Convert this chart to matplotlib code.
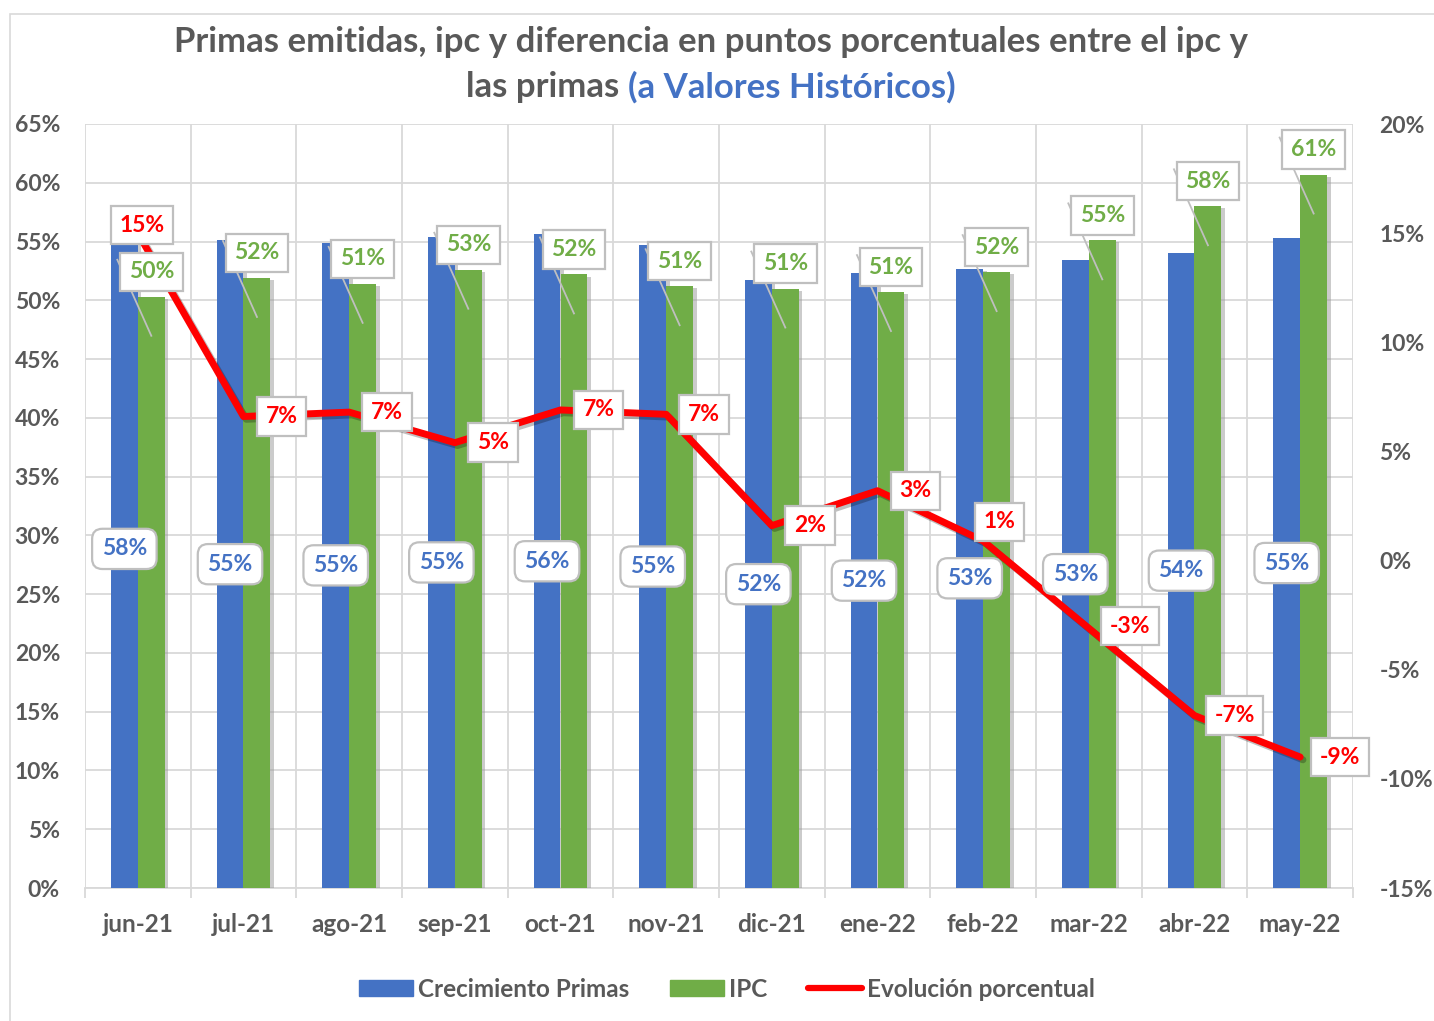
import numpy as np
import matplotlib
matplotlib.use("Agg")
import matplotlib.pyplot as plt
import matplotlib.patheffects as pe
from matplotlib.lines import Line2D
from matplotlib.patches import Rectangle, Patch
from matplotlib.transforms import IdentityTransform

plt.rcParams['font.family'] = ['Lato', 'DejaVu Sans']
plt.rcParams['font.weight'] = 'bold'

meses = ["jun-21", "jul-21", "ago-21", "sep-21", "oct-21", "nov-21",
         "dic-21", "ene-22", "feb-22", "mar-22", "abr-22", "may-22"]
crec_primas = [57.7, 55.1, 54.9, 55.4, 55.6, 54.7, 51.7, 52.3, 52.7, 53.4, 54.0, 55.3]
ipc = [50.3, 51.9, 51.4, 52.6, 52.2, 51.2, 51.0, 50.7, 52.4, 55.1, 58.0, 60.7]
evolucion = [15.0, 6.6, 6.8, 5.4, 6.9, 6.7, 1.6, 3.2, 0.9, -3.1, -7.1, -9.0]

AZUL = "#4472C4"
VERDE = "#70AD47"
ROJO = "#FF0000"
GRIS = "#595959"
GRID = "#D9D9D9"

W, H = 1434, 1021
fig = plt.figure(figsize=(W / 100, H / 100), dpi=100)
ax = fig.add_axes([85 / W, 1 - 888 / H, (1353 - 85) / W, (888 - 124) / H])
ax2 = ax.twinx()

# borde del área del gráfico (solo se ve arriba e izquierda)
fig.patches.append(Rectangle((10 / W, -0.01), 1.1, 1 - 14 / H + 0.01, transform=fig.transFigure,
                             fill=False, edgecolor=GRID, lw=1.2))

x = np.arange(len(meses))
bw = 0.255
sombra = [pe.SimplePatchShadow(offset=(2.5, -1.5), shadow_rgbFace="#999999", alpha=0.5), pe.Normal()]
ax.bar(x - bw / 2, crec_primas, bw, color=AZUL, zorder=3, path_effects=sombra)
ax.bar(x + bw / 2, ipc, bw, color=VERDE, zorder=3, path_effects=sombra)

ax.set_xlim(-0.5, len(meses) - 0.5)
ax.set_ylim(0, 65)
ax.set_yticks(np.arange(0, 66, 5))
ax.set_yticklabels([f"{v}%" for v in range(0, 66, 5)])
ax.set_xticks(x)
ax.set_xticklabels(meses)
ax.set_xticks(np.arange(-0.5, len(meses), 1), minor=True)
ax.grid(axis='y', color=GRID, lw=1.3, zorder=0)
ax.grid(axis='x', which='minor', color=GRID, lw=1.3, zorder=0)
ax.tick_params(axis='x', which='major', length=0, pad=18, labelsize=17.5, labelcolor=GRIS)
ax.tick_params(axis='x', which='minor', length=7, width=1.3, color=GRID)
ax.tick_params(axis='y', length=0, pad=18, labelsize=16.5, labelcolor=GRIS)
ax.set_axisbelow(True)
for s in ["top", "right", "left"]:
    ax.spines[s].set_visible(False)
ax.spines["bottom"].set_color(GRID)
ax.spines["bottom"].set_linewidth(1.3)

ax2.plot(x, evolucion, color=ROJO, lw=5, solid_joinstyle='round', solid_capstyle='round', zorder=4,
         path_effects=[pe.SimpleLineShadow(offset=(2, -2), alpha=0.25), pe.Normal()])
ax2.set_ylim(-15, 20)
ax2.set_yticks(np.arange(-15, 21, 5))
ax2.set_yticklabels([f"{v}%" for v in range(-15, 21, 5)])
ax2.tick_params(axis='y', length=0, pad=19, labelsize=16.5, labelcolor=GRIS)
for s in ax2.spines.values():
    s.set_visible(False)

# etiquetas de datos
fs_lab = 16.5
for i, v in enumerate(crec_primas):
    ax2.text(x[i] - bw / 2, v / 2, f"{round(v)}%", transform=ax.transData, ha='center', va='center',
             fontsize=fs_lab, color=AZUL, zorder=10,
             bbox=dict(boxstyle="round,pad=0.42,rounding_size=0.45", fc="white", ec="#BFBFBF", lw=1.6))

to_disp = ax.transData.transform
for i, v in enumerate(ipc):
    px, py = to_disp((x[i] + bw / 2, v))
    ax2.add_line(Line2D([px - 34, px], [py + 37, py - 39], transform=IdentityTransform(),
                        color="#BFBFBF", lw=1.3, zorder=9))
    ax2.annotate(f"{round(v)}%", xy=(x[i] + bw / 2, v), xycoords=ax.transData,
                 xytext=(0, 25), textcoords='offset pixels', ha='center', va='center',
                 fontsize=fs_lab, color=VERDE, zorder=11,
                 bbox=dict(boxstyle="square,pad=0.38", fc="white", ec="#BFBFBF", lw=1.6))

offs = [(4, 8), (38, 0), (38, 0), (38, 0), (38, 0), (38, 0),
        (38, 0), (38, 0), (16, 19), (41, 2), (40, 0), (40, 0)]
for i, v in enumerate(evolucion):
    ax2.annotate(f"{round(v)}%", xy=(x[i], v), xytext=offs[i], textcoords='offset pixels',
                 ha='center', va='center', fontsize=fs_lab, color=ROJO, zorder=12,
                 bbox=dict(boxstyle="square,pad=0.38", fc="white", ec="#BFBFBF", lw=1.6))

# título
fs_tit = 25
fig.text(711 / W, 1 - 42 / H, "Primas emitidas, ipc y diferencia en puntos porcentuales entre el ipc y",
         ha='center', va='center', fontsize=fs_tit, color=GRIS)
r = fig.canvas.get_renderer()
t1 = fig.text(0, 1 - 87 / H, "las primas ", ha='left', va='center', fontsize=fs_tit, color=GRIS)
t2 = fig.text(0, 1 - 87 / H, "(a Valores Históricos)", ha='left', va='center', fontsize=fs_tit, color=AZUL)
w1 = t1.get_window_extent(r).width / W
w2 = t2.get_window_extent(r).width / W
x0 = 711 / W - (w1 + w2) / 2
t1.set_x(x0)
t2.set_x(x0 + w1)

handles = [Patch(color=AZUL), Patch(color=VERDE),
           Line2D([0], [0], color=ROJO, lw=4.5, solid_capstyle='round')]
fig.legend(handles, ["Crecimiento Primas", "IPC", "Evolución porcentual"], loc='center',
           bbox_to_anchor=(727 / W, 1 - 989 / H), ncol=3, frameon=False, fontsize=17.5,
           handlelength=2.2, handleheight=0.65, handletextpad=0.2, columnspacing=1.7, labelcolor=GRIS)

fig.savefig("out.png", dpi=100)
